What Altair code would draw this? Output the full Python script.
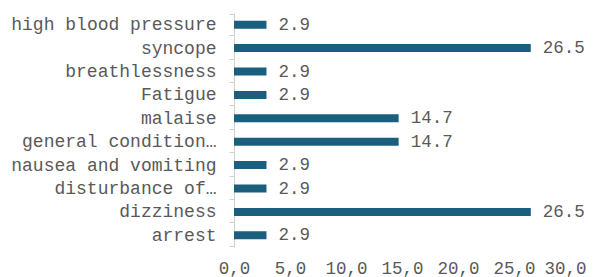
import altair as alt
import pandas as pd

categories = ["high blood pressure", "syncope", "breathlessness", "Fatigue", "malaise",
              "general condition…", "nausea and vomiting", "disturbance of…", "dizziness", "arrest"]
values = [2.9, 26.5, 2.9, 2.9, 14.7, 14.7, 2.9, 2.9, 26.5, 2.9]
x_ticks = [0, 5, 10, 15, 20, 25, 30]

df = pd.DataFrame({"cat": categories, "val": values})

FONT = "Liberation Mono"
GREY = "#595959"

base = alt.Chart(df).encode(
    y=alt.Y("cat:N", sort=categories, title=None,
            axis=alt.Axis(labelFont=FONT, labelFontSize=18, labelColor=GREY,
                          domainColor="#D0D0D0", tickColor="#D0D0D0", tickSize=5,
                          labelPadding=13, tickBand="extent", grid=False,
                          labelLimit=400)),
    x=alt.X("val:Q", title=None, scale=alt.Scale(domain=[0, 30], nice=False),
            axis=alt.Axis(values=x_ticks, domain=False, ticks=False, grid=False,
                          labelFont=FONT, labelFontSize=17.5, labelColor=GREY,
                          labelPadding=12, labelFlush=False,
                          labelAlign={"condition": {"test": "datum.value == 30", "value": "right"},
                                      "value": "center"},
                          labelOffset={"condition": {"test": "datum.value == 30", "value": 16},
                                       "value": 0},
                          labelExpr="replace(format(datum.value, '.1f'), '.', ',')")),
)

bars = base.mark_bar(size=8, color="#1B5F7E")
text = base.mark_text(align="left", baseline="middle", dx=12, font=FONT, fontSize=17.5,
                      color=GREY).encode(text=alt.Text("val:Q", format=".1f"))

chart = (bars + text).properties(
    width=336, height=234,
    padding={"left": 226, "top": 5, "right": 16, "bottom": 30},
    autosize="none",
).configure_view(stroke=None)

chart.save("out.html", embed_options={"renderer": "svg", "actions": False})
